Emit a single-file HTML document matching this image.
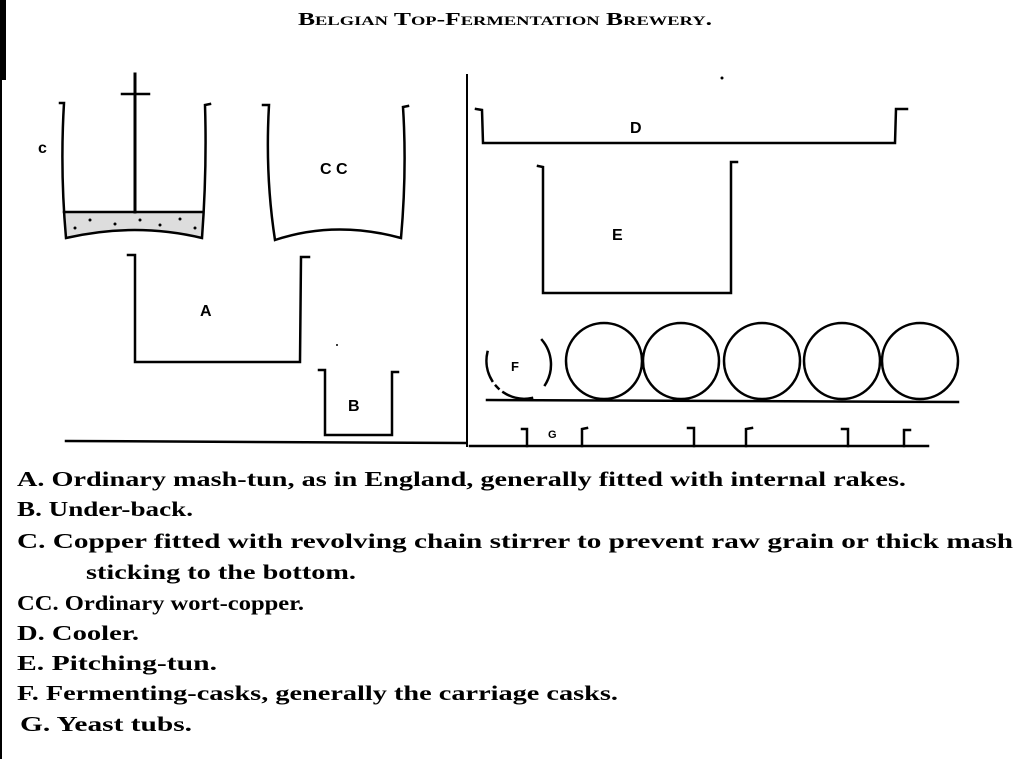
<!DOCTYPE html>
<html><head><meta charset="utf-8"><style>
html,body{margin:0;padding:0;background:#fff;}
svg{display:block;}
</style></head><body>
<svg width="1023" height="759" viewBox="0 0 1023 759" xmlns="http://www.w3.org/2000/svg">
<rect width="1023" height="759" fill="#fff"/>
<rect x="0" y="0" width="6" height="80" fill="#000"/>
<rect x="0" y="80" width="2" height="679" fill="#000"/>
<text x="505" y="25" text-anchor="middle" font-family="Liberation Serif, serif" font-weight="bold" font-size="18" style="font-variant:small-caps" textLength="414" lengthAdjust="spacingAndGlyphs">Belgian Top-Fermentation Brewery.</text>
<path d="M64,212 L203,212 L202,238 Q135,222 66,238 Z" fill="#ddd"/>
<g fill="#000">
<circle cx="90" cy="220" r="1.5"/><circle cx="115" cy="224" r="1.5"/><circle cx="140" cy="220" r="1.5"/><circle cx="160" cy="225" r="1.5"/><circle cx="180" cy="219" r="1.5"/><circle cx="195" cy="228" r="1.5"/><circle cx="75" cy="228" r="1.5"/>
</g>
<g fill="none" stroke="#000" stroke-width="2.5" stroke-linecap="square">
<path d="M60,103 L64,103 Q60,170 66,238 Q135,222 202,238 Q207,170 205,105 L210,104"/>
<line x1="64" y1="212" x2="203" y2="212"/>
<line x1="135" y1="74" x2="135" y2="212" stroke-width="3"/>
<line x1="122" y1="94" x2="149" y2="94"/>
<path d="M263,105 L269,105 Q265,175 275,240 Q335,220 401,238 Q407,170 403,107 L408,106"/>
<path d="M128,255 L135,255 L135,362 L300,362 L301,257 L309,257"/>
<path d="M319,370 L325,370 L325,435 L392,435 L392,372 L398,372"/>
<line x1="66" y1="441" x2="465" y2="443"/>
<line x1="467" y1="75" x2="467" y2="446" stroke-width="2"/>
<path d="M476,109 L482,110 L483,143 L895,143 L896,109 L907,109"/>
<path d="M538,166 L543,167 L543,293 L731,293 L731,162 L737,162"/>
<path d="M542,340 A38,38 0 0 1 545,385" />
<path d="M532,398 A38,38 0 0 1 488,350" stroke-dasharray="30 6 4 6"/>
<circle cx="604" cy="361" r="38"/>
<circle cx="681" cy="361" r="38"/>
<circle cx="762" cy="361" r="38"/>
<circle cx="842" cy="361" r="38"/>
<circle cx="920" cy="361" r="38"/>
<line x1="487" y1="400" x2="958" y2="402"/>
<line x1="470" y1="446" x2="928" y2="446"/>
<path d="M522,429 L527,429 L527,446"/>
<path d="M582,446 L582,429 L587,428"/>
<path d="M688,428 L694,428 L694,446"/>
<path d="M746,446 L746,429 L752,428"/>
<path d="M842,429 L848,429 L848,446"/>
<path d="M904,446 L904,430 L910,430"/>
</g>
<g fill="#000" font-family="Liberation Sans, sans-serif" font-weight="bold" font-size="16">
<text x="38" y="153">c</text>
<text x="320" y="174">C C</text>
<text x="200" y="316">A</text>
<text x="348" y="411">B</text>
<text x="630" y="133">D</text>
<text x="612" y="240">E</text>
<text x="511" y="371" font-size="13">F</text>
<text x="548" y="438" font-size="11">G</text>
</g>
<circle cx="722" cy="78" r="1.5" fill="#000"/>
<circle cx="337" cy="345" r="1" fill="#000"/>
<g font-family="Liberation Serif, serif" font-weight="bold" font-size="21" fill="#000">
<text x="17" y="486" textLength="889" lengthAdjust="spacingAndGlyphs">A. Ordinary mash-tun, as in England, generally fitted with internal rakes.</text>
<text x="17" y="516" textLength="176" lengthAdjust="spacingAndGlyphs">B. Under-back.</text>
<text x="17" y="548" textLength="996" lengthAdjust="spacingAndGlyphs">C. Copper fitted with revolving chain stirrer to prevent raw grain or thick mash</text>
<text x="86" y="579" textLength="270" lengthAdjust="spacingAndGlyphs">sticking to the bottom.</text>
<text x="17" y="610" textLength="287" lengthAdjust="spacingAndGlyphs">CC. Ordinary wort-copper.</text>
<text x="17" y="640" textLength="122" lengthAdjust="spacingAndGlyphs">D. Cooler.</text>
<text x="17" y="670" textLength="200" lengthAdjust="spacingAndGlyphs">E. Pitching-tun.</text>
<text x="17" y="700" textLength="601" lengthAdjust="spacingAndGlyphs">F. Fermenting-casks, generally the carriage casks.</text>
<text x="20" y="731" textLength="172" lengthAdjust="spacingAndGlyphs">G. Yeast tubs.</text>
</g>
</svg>
</body></html>
